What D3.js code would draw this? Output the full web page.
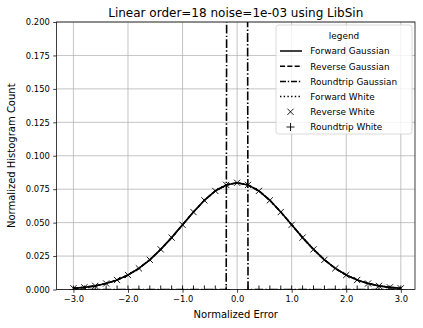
<!DOCTYPE html>
<html>
<head>
<meta charset="utf-8">
<script src="https://cdn.jsdelivr.net/npm/d3@7"></script>
<style>
  body { margin: 0; background: #fff; }
  svg { font-family: "DejaVu Sans", sans-serif; }
</style>
</head>
<body>
<svg id="chart" width="423" height="328"></svg>
<script>
// bin centres of the histograms
const binX = [-3.0, -2.8, -2.6, -2.4, -2.2, -2.0, -1.8, -1.6, -1.4, -1.2, -1.0,
  -0.8, -0.6, -0.4, -0.2, 0.0, 0.2, 0.4, 0.6, 0.8, 1.0,
  1.2, 1.4, 1.6, 1.8, 2.0, 2.2, 2.4, 2.6, 2.8, 3.0];

// values
const forwardGaussian = [0.0009, 0.0016, 0.0027, 0.0045, 0.0071, 0.0108, 0.0158, 0.0222, 0.0300, 0.0388, 0.0484,
  0.0579, 0.0667, 0.0737, 0.0782, 0.0798, 0.0782, 0.0737, 0.0667, 0.0579, 0.0484,
  0.0388, 0.0300, 0.0222, 0.0158, 0.0108, 0.0071, 0.0045, 0.0027, 0.0016, 0.0009];
const reverseGaussian = forwardGaussian.slice();
const roundtripGaussian = [0, 0, 0, 0, 0, 0, 0, 0, 0, 0, 0,
  0, 0, 0, 0, 5.0, 0, 0, 0, 0, 0,
  0, 0, 0, 0, 0, 0, 0, 0, 0, 0];
const forwardWhite = forwardGaussian.slice();
const reverseWhite = forwardGaussian.slice();
const roundtripWhite = roundtripGaussian.slice();

const xTicks = [-3, -2, -1, 0, 1, 2, 3];
const yTicks = [0, 0.025, 0.05, 0.075, 0.1, 0.125, 0.15, 0.175, 0.2];
const seriesNames = ["Forward Gaussian", "Reverse Gaussian", "Roundtrip Gaussian",
  "Forward White", "Reverse White", "Roundtrip White"];

var svg = d3.select("#chart");
const mLeft = 56.5, mRight = 415, mTop = 22, mBottom = 289.5;

var x = d3.scaleLinear().domain([-3.31, 3.26]).range([mLeft, mRight]);
var y = d3.scaleLinear().domain([0, 0.2]).range([mBottom, mTop]);

// clip to the axes box
svg.append("clipPath").attr("id", "clip")
  .append("rect").attr("x", mLeft).attr("y", mTop)
  .attr("width", mRight - mLeft).attr("height", mBottom - mTop);

// grid
var grid = svg.append("g").attr("stroke", "#b0b0b0").attr("stroke-width", 0.75);
xTicks.forEach(function (t) {
  grid.append("line").attr("x1", x(t)).attr("x2", x(t)).attr("y1", mTop).attr("y2", mBottom);
});
yTicks.forEach(function (t) {
  grid.append("line").attr("x1", mLeft).attr("x2", mRight).attr("y1", y(t)).attr("y2", y(t));
});

// axes
var xAxis = svg.append("g")
  .attr("transform", "translate(0," + mBottom + ")")
  .call(d3.axisBottom(x).tickValues(xTicks).tickSize(3.3).tickPadding(3.4)
    .tickFormat(d3.format(".1f")));
var yAxis = svg.append("g")
  .attr("transform", "translate(" + mLeft + ",0)")
  .call(d3.axisLeft(y).tickValues(yTicks).tickSize(3.3).tickPadding(3.4)
    .tickFormat(d3.format(".3f")));
[xAxis, yAxis].forEach(function (a) {
  a.select(".domain").remove();
  a.selectAll("line").attr("stroke", "#000").attr("stroke-width", 0.75);
  a.selectAll("text").attr("font-size", "8.4px").attr("fill", "#000")
    .attr("font-family", "DejaVu Sans");
});

// plotted series
var plot = svg.append("g").attr("clip-path", "url(#clip)");
function pts(vals) { return binX.map(function (v, i) { return [v, vals[i]]; }); }
var line = d3.line().x(function (d) { return x(d[0]); }).y(function (d) { return y(d[1]); });

function drawLine(vals, dash) {
  plot.append("path").datum(pts(vals))
    .attr("d", line).attr("fill", "none").attr("stroke", "#000")
    .attr("stroke-width", 1.6).attr("stroke-dasharray", dash);
}
function markerPath(kind, s) {
  if (kind == "x") return "M" + -s + "," + -s + "L" + s + "," + s + "M" + -s + "," + s + "L" + s + "," + -s;
  return "M" + -s * 1.3 + ",0L" + s * 1.3 + ",0M0," + -s * 1.3 + "L0," + s * 1.3;
}
function drawMarkers(vals, kind) {
  plot.selectAll(null).data(pts(vals)).enter().append("path")
    .attr("transform", function (d) { return "translate(" + x(d[0]) + "," + y(d[1]) + ")"; })
    .attr("d", markerPath(kind, 3.1))
    .attr("fill", "none").attr("stroke", "#000").attr("stroke-width", 0.9);
}
drawLine(forwardGaussian, null);
drawLine(reverseGaussian, "5.1,2.2");
drawLine(roundtripGaussian, "8.8,2.2,1.4,2.2");
drawLine(forwardWhite, "1.4,2.3");
drawMarkers(reverseWhite, "x");
drawMarkers(roundtripWhite, "+");

// frame
svg.append("rect").attr("x", mLeft).attr("y", mTop)
  .attr("width", mRight - mLeft).attr("height", mBottom - mTop)
  .attr("fill", "none").attr("stroke", "#000").attr("stroke-width", 0.75);

// titles
svg.append("text").attr("x", (mLeft + mRight) / 2).attr("y", 17)
  .attr("text-anchor", "middle").attr("font-size", "12px").text("Linear order=18 noise=1e-03 using LibSin");
svg.append("text").attr("x", (mLeft + mRight) / 2).attr("y", 318)
  .attr("text-anchor", "middle").attr("font-size", "10px").text("Normalized Error");
svg.append("text").attr("transform", "translate(14.5," + (mTop + mBottom) / 2 + ") rotate(-90)")
  .attr("text-anchor", "middle").attr("font-size", "10px").text("Normalized Histogram Count");

// legend
var lg = svg.append("g").attr("transform", "translate(276,25)");
lg.append("rect").attr("width", 136).attr("height", 109).attr("rx", 2.5)
  .attr("fill", "rgba(255,255,255,0.8)").attr("stroke", "#d0d0d0").attr("stroke-width", 0.8);
lg.append("text").attr("x", 68).attr("y", 13.5).attr("text-anchor", "middle")
  .attr("font-size", "8.9px").text("legend");
var kinds = [["line", null], ["line", "5.1,2.2"], ["line", "6,1.8,1.4,1.8"],
  ["line", "1.4,2.3"], ["mark", "x"], ["mark", "+"]];
seriesNames.forEach(function (name, i) {
  var ry = 26 + i * 15.2;
  var k = kinds[i];
  if (k[0] == "line") {
    lg.append("line").attr("x1", 4).attr("x2", 26).attr("y1", ry).attr("y2", ry)
      .attr("stroke", "#000").attr("stroke-width", 1.5).attr("stroke-dasharray", k[1]);
  } else {
    lg.append("path").attr("transform", "translate(14.5," + ry + ")")
      .attr("d", markerPath(k[1], 3.1)).attr("fill", "none")
      .attr("stroke", "#000").attr("stroke-width", 0.9);
  }
  lg.append("text").attr("x", 34.3).attr("y", ry + 3.3).attr("font-size", "8.9px").text(name);
});
</script>
</body>
</html>
